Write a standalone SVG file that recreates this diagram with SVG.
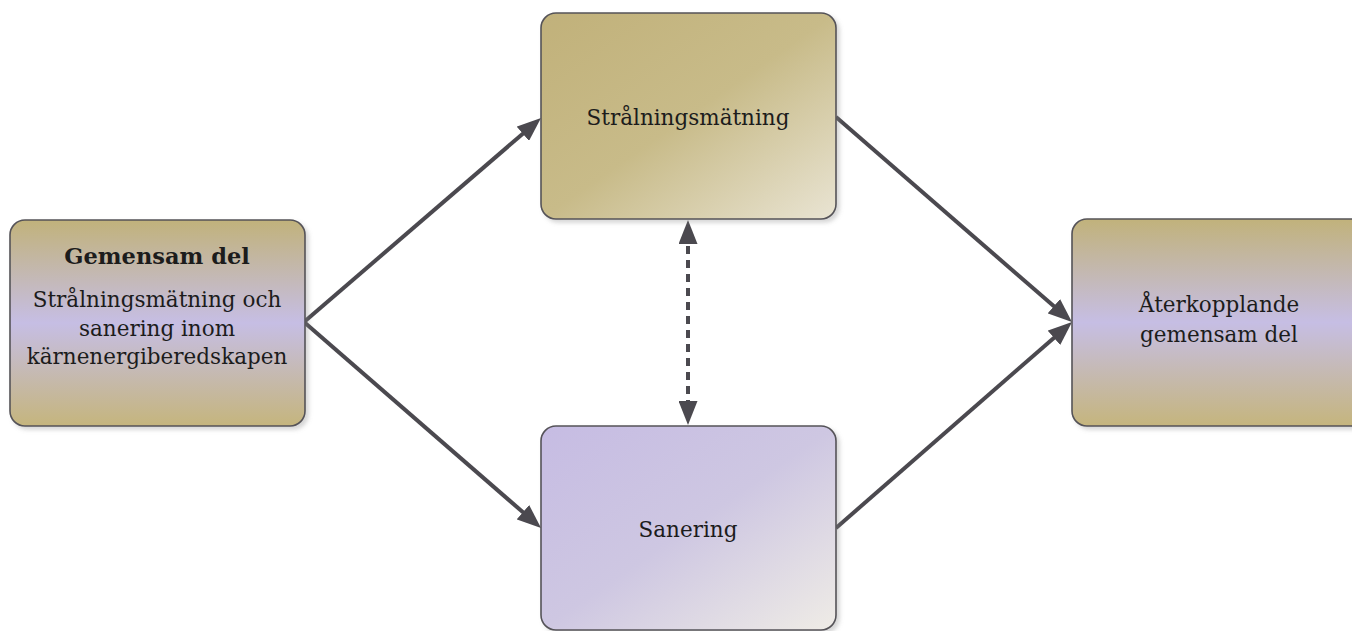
<svg xmlns="http://www.w3.org/2000/svg" width="1352" height="631" viewBox="0 0 1352 631">
<style>
.box{stroke:#555358;stroke-width:1.6}
.t{font-family:"DejaVu Serif","Liberation Serif",serif;font-size:21.5px;fill:#1c1c1c;text-anchor:middle}
.b{font-weight:bold;font-size:22.5px}
.conn{stroke:#4b494f;stroke-width:4;fill:none}
</style>
<defs>
<linearGradient id="gV" x1="0" y1="0" x2="0" y2="1">
<stop offset="0" stop-color="#c1b27b"/>
<stop offset="0.5" stop-color="#c6bee4"/>
<stop offset="1" stop-color="#c5b57d"/>
</linearGradient>
<linearGradient id="gGold" x1="0" y1="0" x2="1" y2="1">
<stop offset="0" stop-color="#c1b17a"/>
<stop offset="0.5" stop-color="#c8bb89"/>
<stop offset="1" stop-color="#e9e4d3"/>
</linearGradient>
<linearGradient id="gLav" x1="0" y1="0" x2="1" y2="1">
<stop offset="0" stop-color="#c6bce3"/>
<stop offset="0.5" stop-color="#cec7e2"/>
<stop offset="1" stop-color="#efece6"/>
</linearGradient>
<filter id="sh" x="-10%" y="-10%" width="120%" height="120%">
<feDropShadow dx="3" dy="3" stdDeviation="2" flood-color="#888" flood-opacity="0.35"/>
</filter>
<marker id="ah" markerUnits="userSpaceOnUse" viewBox="0 0 24 19" markerWidth="24" markerHeight="19" refX="12" refY="9.5" orient="auto-start-reverse">
<path d="M0,0 L24,9.5 L0,19 z" fill="#4b494f"/>
</marker>
</defs>
<g id="connectors">
<line class="conn" x1="304" y1="322" x2="531.9" y2="125.9" marker-end="url(#ah)"/>
<line class="conn" x1="304" y1="322" x2="532" y2="520.1" marker-end="url(#ah)"/>
<line class="conn" x1="836" y1="117" x2="1062.9" y2="314.1" marker-end="url(#ah)"/>
<line class="conn" x1="836" y1="528" x2="1063" y2="329.9" marker-end="url(#ah)"/>
<line class="conn" x1="688" y1="232" x2="688" y2="413" stroke-dasharray="8 6" marker-start="url(#ah)" marker-end="url(#ah)"/>
</g>
<g id="node-gemensam">
<rect class="box" x="10" y="220" width="295" height="206" rx="15" fill="url(#gV)" filter="url(#sh)"/>
<text class="t b" x="157" y="264">Gemensam del</text>
<text class="t" x="157" y="307">Strålningsmätning och</text>
<text class="t" x="157" y="335.5">sanering inom</text>
<text class="t" x="157" y="364">kärnenergiberedskapen</text>
</g>
<g id="node-stralning">
<rect class="box" x="541" y="13" width="295" height="206" rx="15" fill="url(#gGold)" filter="url(#sh)"/>
<text class="t" x="688" y="125">Strålningsmätning</text>
</g>
<g id="node-sanering">
<rect class="box" x="541" y="426" width="295" height="204" rx="15" fill="url(#gLav)" filter="url(#sh)"/>
<text class="t" x="688" y="537">Sanering</text>
</g>
<g id="node-aterkopplande">
<rect class="box" x="1072" y="219" width="295" height="207" rx="15" fill="url(#gV)" filter="url(#sh)"/>
<text class="t" x="1219" y="312">Återkopplande</text>
<text class="t" x="1219" y="342">gemensam del</text>
</g>
</svg>
